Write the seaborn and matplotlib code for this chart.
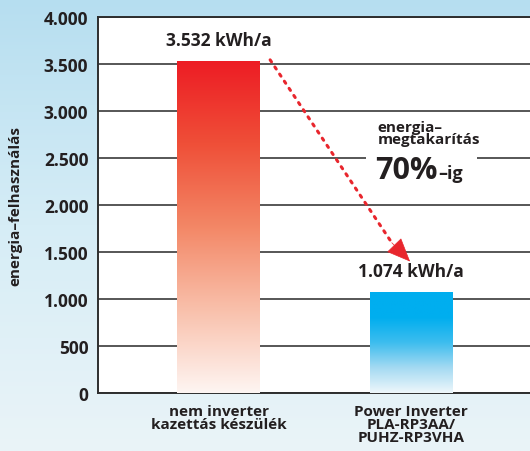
"""
Energy consumption comparison: non-inverter vs Power Inverter cassette unit.
"""
import numpy as np
import pandas as pd
import matplotlib
matplotlib.use("Agg")
import matplotlib.pyplot as plt
import matplotlib.ticker as mtick
from matplotlib.colors import LinearSegmentedColormap
from matplotlib.patches import Rectangle
import seaborn as sns

# data
categories = ["nem inverter\nkazettás készülék", "Power Inverter\nPLA-RP3AA/\nPUHZ-RP3VHA"]
consumption = [3532, 1074]
value_labels = ["3.532 kWh/a", "1.074 kWh/a"]
y_ticks = [0, 500, 1000, 1500, 2000, 2500, 3000, 3500, 4000]

sns.set_theme(style="white")
plt.rcParams["font.family"] = ["Open Sans", "DejaVu Sans"]

TEXT = "#231f20"
GRID = "#3a3a3a"
RED = "#e8262d"

fig = plt.figure(figsize=(5.30, 4.52), dpi=100)

# sky background
bg = fig.add_axes([0, 0, 1, 1], zorder=-10)
sky = LinearSegmentedColormap.from_list("sky", ["#eaf4f8", "#d6edf6", "#b6def0"])
grad = np.linspace(0, 1, 256).reshape(-1, 1)
bg.imshow(grad, cmap=sky, aspect="auto", origin="lower", extent=[0, 1, 0, 1])
bg.set_axis_off()

ax = fig.add_axes([0.185, 0.128, 0.815, 0.832])
ax.set_facecolor("white")

df = pd.DataFrame({"cat": categories, "kwh": consumption})
sns.barplot(data=df, x="cat", y="kwh", ax=ax, width=0.43, color="white",
            linewidth=0, zorder=2)

cmaps = [
    LinearSegmentedColormap.from_list("red", ["#fef5f2", "#f9c0ab", "#f38766", "#ef4f38", "#ed1c24"]),
    LinearSegmentedColormap.from_list("blue", ["#eef7fb", "#a4daf2", "#3dbdee", "#00aeef", "#00aeef"]),
]
for patch, cmap in zip(ax.patches, cmaps):
    x0, w, h = patch.get_x(), patch.get_width(), patch.get_height()
    im = ax.imshow(grad, cmap=cmap, aspect="auto", origin="lower",
                   extent=[x0, x0 + w, 0, h], zorder=3)
    im.set_clip_path(patch)

ax.set_xlim(-0.626, 1.618)
ax.set_ylim(0, 4000)
ax.set_yticks(y_ticks)
ax.yaxis.set_major_formatter(mtick.FuncFormatter(lambda v, p: f"{int(v):,}".replace(",", ".")))
ax.grid(axis="y", color=GRID, linewidth=1.2, zorder=1)
ax.set_axisbelow(True)

for side in ["left", "bottom", "top"]:
    ax.spines[side].set_color("#2e2e2e")
    ax.spines[side].set_linewidth(1.4)
ax.spines["right"].set_visible(False)

ax.tick_params(axis="both", length=0, pad=7, colors=TEXT)
for lbl in ax.get_yticklabels():
    lbl.set_fontsize(12.5)
    lbl.set_fontweight("bold")
ax.set_xticks([0, 1])
ax.set_xticklabels(categories, fontsize=11, fontweight="bold", linespacing=0.9,
                   color=TEXT, va="top")
ax.tick_params(axis="x", pad=8)
ax.set_xlabel("")
ax.set_ylabel("energia–felhasználás", fontsize=11, fontweight="bold", color=TEXT)
ax.yaxis.set_label_coords(-0.176, 0.5)

# value labels above bars
for i, (v, txt) in enumerate(zip(consumption, value_labels)):
    ax.text(i, v + 130, txt, ha="center", va="bottom", fontsize=12.5,
            fontweight="bold", color=TEXT, zorder=5)

# dotted savings arrow: dotted shaft + solid head
start, tip = (0.268, 3545), (0.995, 1400)
shaft_end = (0.90, 1600)
ax.plot([start[0], shaft_end[0]], [start[1], shaft_end[1]], color=RED,
        linestyle=(0, (0.8, 2.0)), linewidth=2.2, zorder=6,
        dash_capstyle="round")
ax.annotate("", xy=tip, xytext=shaft_end,
            arrowprops=dict(arrowstyle="-|>,head_length=1.3,head_width=0.55",
                            color=RED, linewidth=0.5, shrinkA=0, shrinkB=0),
            zorder=6)

# savings note, white strip breaking the 2500 gridline
ax.add_patch(Rectangle((0.766, 2440), 0.577, 120, facecolor="white",
                       edgecolor="none", zorder=1.5))
ax.text(0.825, 2905, "energia–\nmegtakarítás", ha="left", va="top", fontsize=11,
        fontweight="bold", color=TEXT, linespacing=0.78, zorder=5)
ax.text(0.815, 2290, "70%", ha="left", va="baseline", fontsize=22,
        fontweight="bold", color=TEXT, zorder=5)
ax.text(1.14, 2290, "–ig", ha="left", va="baseline", fontsize=13,
        fontweight="bold", color=TEXT, zorder=5)

fig.savefig("out.png", dpi=100)
